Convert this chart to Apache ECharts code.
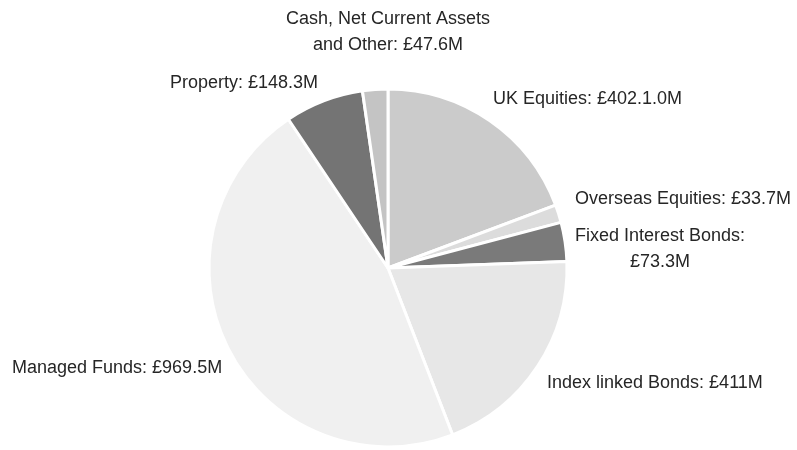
<!DOCTYPE html>
<html>
<head>
<meta charset="utf-8">
<script src="https://cdn.jsdelivr.net/npm/echarts@6/dist/echarts.min.js"></script>
<style>html,body{margin:0;padding:0;background:#fff}#c{width:797px;height:450px}</style>
</head>
<body>
<div id="c"></div>
<script>
var categories = ['UK Equities', 'Overseas Equities', 'Fixed Interest Bonds', 'Index linked Bonds', 'Managed Funds', 'Property', 'Cash, Net Current Assets and Other'];
var values = [402.1, 33.7, 73.3, 411, 969.5, 148.3, 47.6];
var labelTexts = ['UK Equities: £402.1.0M', 'Overseas Equities: £33.7M', 'Fixed Interest Bonds:\n£73.3M', 'Index linked Bonds: £411M', 'Managed Funds: £969.5M', 'Property: £148.3M', 'Cash, Net Current Assets\nand Other: £47.6M'];

var colors = ['#cbcbcb', '#dcdcdc', '#7a7a7a', '#e7e7e7', '#f0f0f0', '#747474', '#c4c4c4'];
// label anchor: x = left edge (or centre when align is 'center'), y = middle of label block
var labelPos = [
  {x: 493, y: 99, align: 'left'},
  {x: 575, y: 199, align: 'left'},
  {x: 575, y: 249, align: 'left'},
  {x: 547, y: 383, align: 'left'},
  {x: 12, y: 368, align: 'left'},
  {x: 244, y: 83, align: 'center'},
  {x: 388, y: 32, align: 'center'}
];

var chart = echarts.init(document.getElementById('c'), null, {renderer: 'canvas'});
chart.setOption({
  animation: false,
  backgroundColor: '#fff',
  series: [{
    type: 'pie',
    center: [388, 268],
    radius: 179,
    startAngle: 90,
    clockwise: true,
    data: categories.map(function (c, i) {
      return {name: c, value: values[i], itemStyle: {color: colors[i]}};
    }),
    itemStyle: {borderColor: '#fff', borderWidth: 3},
    label: {
      show: true,
      position: 'outside',
      formatter: function (p) { return labelTexts[p.dataIndex]; },
      color: '#262626',
      fontFamily: 'Liberation Sans, Arial, sans-serif',
      fontSize: 18,
      lineHeight: 26,
      align: 'center',
      overflow: 'none',
      edgeDistance: 0
    },
    labelLine: {show: false},
    labelLayout: function (p) {
      var lp = labelPos[p.dataIndex];
      var w = p.labelRect.width;
      var x = lp.align === 'center' ? lp.x : lp.x + w / 2;
      return {x: x, y: lp.y, align: 'center', verticalAlign: 'middle', hideOverlap: false, moveOverlap: false};
    },
    emphasis: {disabled: true}
  }]
});
</script>
</body>
</html>
